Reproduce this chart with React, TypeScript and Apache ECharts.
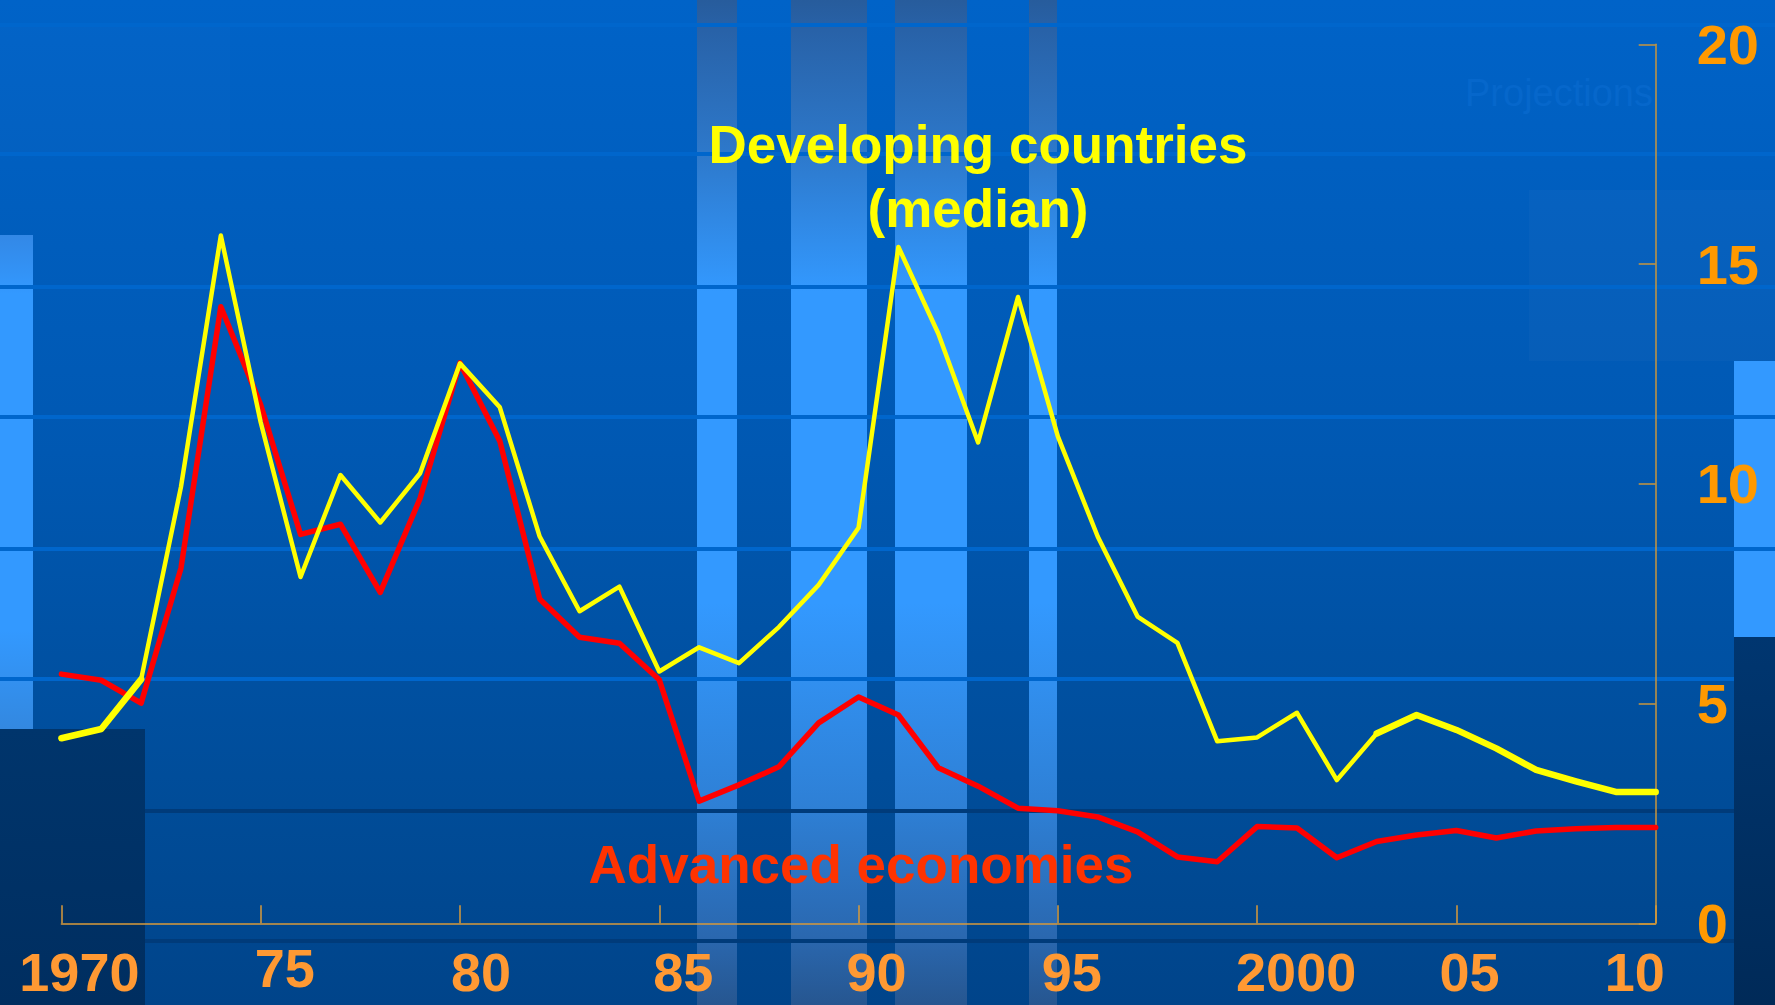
import React, { useEffect, useRef } from "react";
import * as echarts from "echarts";

// ---- data ----
const years: number[] = [
  1970, 1971, 1972, 1973, 1974, 1975, 1976, 1977, 1978, 1979,
  1980, 1981, 1982, 1983, 1984, 1985, 1986, 1987, 1988, 1989,
  1990, 1991, 1992, 1993, 1994, 1995, 1996, 1997, 1998, 1999,
  2000, 2001, 2002, 2003, 2004, 2005, 2006, 2007, 2008, 2009, 2010,
];
const developingMedian: number[] = [
  4.21, 4.42, 5.55, 9.93, 15.65, 11.4, 7.88, 10.2, 9.12, 10.24,
  12.74, 11.74, 8.8, 7.1, 7.66, 5.73, 6.28, 5.92, 6.74, 7.7,
  9.0, 15.39, 13.42, 10.94, 14.25, 11.08, 8.8, 6.98, 6.38, 4.14,
  4.23, 4.79, 3.26, 4.32, 4.74, 4.4, 3.98, 3.49, 3.23, 2.99, 2.99,
];
const advancedEconomies: number[] = [
  5.67, 5.53, 5.01, 8.08, 14.03, 11.8, 8.85, 9.08, 7.53, 9.67,
  12.75, 10.97, 7.38, 6.51, 6.37, 5.54, 2.78, 3.15, 3.56, 4.56,
  5.15, 4.74, 3.54, 3.12, 2.62, 2.56, 2.42, 2.08, 1.51, 1.4,
  2.2, 2.17, 1.49, 1.86, 2.01, 2.11, 1.94, 2.1, 2.15, 2.18, 2.18,
];
const xTickValues: number[] = [1970, 1975, 1980, 1985, 1990, 1995, 2000, 2005, 2010];
const xTickLabels: string[] = ["1970", "75", "80", "85", "90", "95", "2000", "05", "10"];
const yTickLabels: string[] = ["0", "5", "10", "15", "20"];
const seriesNames: string[] = ["Developing countries\n(median)", "Advanced economies"];
const noteText = "Projections";
// years where the developing-country line is drawn heavier in the original
const heavyYears: number[] = [1970, 1971, 1972, 2003, 2004, 2005, 2006, 2007, 2008, 2009, 2010];

// ---- styles ----
const W = 1775;
const H = 1005;
const FONT = "'Liberation Sans', Arial, Helvetica, sans-serif";
// horizontal shift (px) of each x tick label, and vertical padding
const xLabelShift = [18, 24, 21, 24, 18, 14, 39, 13, -21];
const xLabelTop = [4, 0, 4, 4, 4, 4, 4, 4, 4];

function App() {
  const ref = useRef<HTMLDivElement>(null);

  useEffect(() => {
    document.body.style.margin = "0";
    if (!ref.current) return;
    const chart = echarts.init(ref.current, null, { renderer: "svg", width: W, height: H });

    const barGrad = {
      type: "linear", x: 0, y: 0, x2: 0, y2: 1,
      colorStops: [
        { offset: 0, color: "#275C9C" },
        { offset: 0.03, color: "#2862A8" },
        { offset: 0.15, color: "#2D78CA" },
        { offset: 0.29, color: "#3399FF" },
        { offset: 0.6, color: "#3399FF" },
        { offset: 0.8, color: "#2E80D6" },
        { offset: 0.93, color: "#2A68B0" },
        { offset: 1, color: "#265690" },
      ],
    };

    const bgEls: any[] = [];
    bgEls.push({
      type: "rect",
      shape: { x: 0, y: 0, width: W, height: H },
      style: {
        fill: {
          type: "linear", x: 0, y: 0, x2: 0, y2: 1,
          colorStops: [
            { offset: 0, color: "#0063C8" },
            { offset: 0.45, color: "#0058B2" },
            { offset: 0.8, color: "#004C98" },
            { offset: 1, color: "#00448A" },
          ],
        },
      },
    });
    // subtle panels
    bgEls.push({ type: "rect", shape: { x: 1529, y: 190, width: 246, height: 171 }, style: { fill: "rgba(255,255,255,0.025)" } });
    bgEls.push({ type: "rect", shape: { x: 0, y: 27, width: 230, height: 125 }, style: { fill: "rgba(255,255,255,0.012)" } });
    // vertical template bars
    const vbars = [[697, 737], [791, 867], [895, 967], [1029, 1057]];
    vbars.forEach(([a, b]) => {
      bgEls.push({ type: "rect", shape: { x: a, y: 0, width: b - a, height: H }, style: { fill: barGrad } });
    });
    // left bar
    bgEls.push({
      type: "rect", shape: { x: 0, y: 235, width: 33, height: 494 },
      style: {
        fill: {
          type: "linear", x: 0, y: 0, x2: 0, y2: 1,
          colorStops: [
            { offset: 0, color: "#3388E6" },
            { offset: 0.12, color: "#3399FF" },
            { offset: 0.8, color: "#3399FF" },
            { offset: 1, color: "#3388E0" },
          ],
        },
      },
    });
    // right bar
    bgEls.push({ type: "rect", shape: { x: 1734, y: 361, width: 41, height: 276 }, style: { fill: "#3399FF" } });
    // horizontal template lines
    [25, 154, 287, 417, 549, 679].forEach((y) => {
      bgEls.push({ type: "rect", shape: { x: 0, y: y - 2, width: W, height: 4 }, style: { fill: "#0066CC" } });
    });
    [811, 941].forEach((y) => {
      bgEls.push({ type: "rect", shape: { x: 0, y: y - 2, width: W, height: 4 }, style: { fill: "#003B7A" } });
    });
    // dark blocks
    bgEls.push({
      type: "rect", shape: { x: 0, y: 729, width: 145, height: H - 729 },
      style: { fill: { type: "linear", x: 0, y: 0, x2: 0, y2: 1, colorStops: [{ offset: 0, color: "#00356C" }, { offset: 1, color: "#002E60" }] } },
    });
    bgEls.push({
      type: "rect", shape: { x: 1734, y: 637, width: 41, height: H - 637 },
      style: { fill: { type: "linear", x: 0, y: 0, x2: 0, y2: 1, colorStops: [{ offset: 0, color: "#003670" }, { offset: 1, color: "#002A58" }] } },
    });
    bgEls.forEach((e, i) => { e.z = -200 + i; e.silent = true; });

    const textEls: any[] = [
      {
        type: "text", x: 1653, y: 93, z: 50,
        style: {
          text: noteText, fill: "#0667CB", font: `normal 38px ${FONT}`,
          textAlign: "right", textVerticalAlign: "middle",
        },
      },
      {
        type: "text", x: 978, y: 176, z: 50,
        style: {
          text: seriesNames[0], fill: "#FFFF00", font: `bold 53px ${FONT}`,
          textAlign: "center", textVerticalAlign: "middle", lineHeight: 64,
        },
      },
      {
        type: "text", x: 861, y: 864, z: 50,
        style: {
          text: seriesNames[1], fill: "#FF3300", font: `bold 53px ${FONT}`,
          textAlign: "center", textVerticalAlign: "middle",
        },
      },
    ];

    const rich: any = {};
    xTickLabels.forEach((_, i) => {
      const s = xLabelShift[i];
      rich["l" + i] = {
        color: "#FF9933", fontSize: 54, fontWeight: "bold", fontFamily: FONT,
        padding: [xLabelTop[i], s < 0 ? -2 * s : 0, 0, s > 0 ? 2 * s : 0],
      };
    });

    const axisColor = "#D99A3A";

    chart.setOption({
      animation: false,
      backgroundColor: "transparent",
      grid: { left: 61.4, right: 119.3, top: 44.3, bottom: 81.7, containLabel: false },
      graphic: { elements: [...bgEls, ...textEls] },
      xAxis: {
        type: "value", min: 1970, max: 2010, interval: 5,
        axisLine: { show: true, onZero: false, lineStyle: { color: axisColor, width: 1.5 } },
        axisTick: { show: true, inside: true, length: 18, lineStyle: { color: axisColor, width: 1.5 } },
        splitLine: { show: false },
        axisLabel: {
          margin: 18,
          formatter: (v: number) => {
            const i = xTickValues.indexOf(v);
            return i >= 0 ? `{l${i}|${xTickLabels[i]}}` : "";
          },
          rich,
        },
      },
      yAxis: {
        type: "value", position: "right", min: 0, max: 20, interval: 5,
        axisLine: { show: true, lineStyle: { color: "#C8963C", width: 1.5 } },
        axisTick: { show: true, inside: true, length: 17, lineStyle: { color: "#C8963C", width: 1.5 } },
        splitLine: { show: false },
        axisLabel: {
          margin: 41, color: "#FF9900", fontSize: 56, fontWeight: "bold", fontFamily: FONT,
          formatter: (v: number) => yTickLabels[Math.round(v / 5)] ?? String(v),
        },
      },
      series: [
        {
          name: "Advanced economies", type: "line", showSymbol: false, symbol: "none",
          data: years.map((y, i) => [y, advancedEconomies[i]]),
          lineStyle: { color: "#FF0000", width: 5.5, cap: "round", join: "round" },
          z: 3,
        },
        {
          name: "Developing countries (median)", type: "line", showSymbol: false, symbol: "none",
          data: years.map((y, i) => [y, developingMedian[i]]),
          lineStyle: { color: "#FFFF00", width: 4.5, cap: "round", join: "round" },
          z: 4,
        },
        {
          name: "Developing countries (median) heavy", type: "line", showSymbol: false, symbol: "none",
          connectNulls: false,
          data: years.map((y, i) => [y, heavyYears.indexOf(y) >= 0 ? developingMedian[i] : null]),
          lineStyle: { color: "#FFFF00", width: 6.5, cap: "round", join: "round" },
          z: 4,
        },
      ],
    });

    return () => chart.dispose();
  }, []);

  return <div ref={ref} style={{ width: W, height: H }} />;
}

export default App;
